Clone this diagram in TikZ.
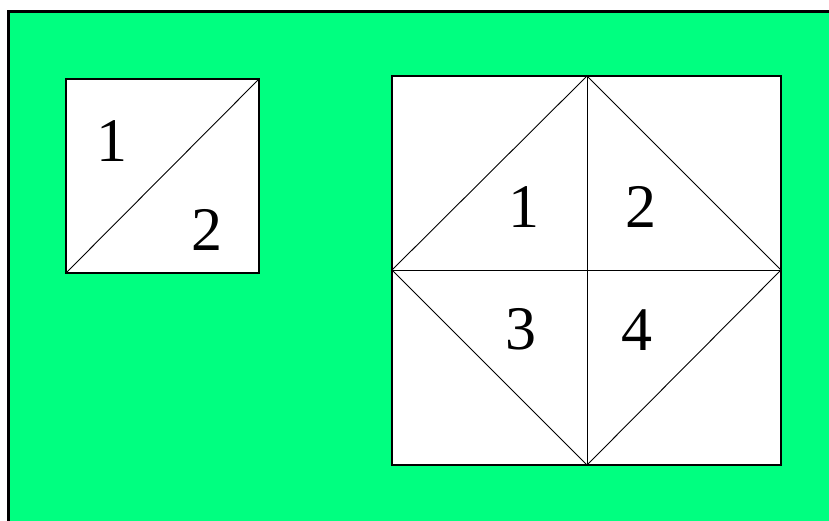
\documentclass[tikz,border=0pt]{standalone}
\usepackage{fontspec}
\setmainfont{Liberation Serif}
\definecolor{bggreen}{RGB}{0,255,128}
\begin{document}
\begin{tikzpicture}[x=1pt,y=-1pt,
  sq/.style={draw=black,fill=white,line width=1.2pt},
  ln/.style={draw=black,line width=0.9pt},
  num/.style={inner sep=0pt,font=\fontsize{62}{62}\selectfont}]
\useasboundingbox (0,0) rectangle (829,520);
\clip (0,0) rectangle (829,520);
\fill[white] (0,0) rectangle (829,520);
\draw[fill=bggreen,line width=3pt] (8,11) rectangle (860,560);
% small square
\coordinate (a1) at (66,79);
\coordinate (a2) at (259,79);
\coordinate (a3) at (259,273);
\coordinate (a4) at (66,273);
\draw[sq] (a1) rectangle (a3);
\draw[ln] (a4) -- (a2);
\node[num] (s1) at (112,141) {1};
\node[num] (s2) at (207,230) {2};
% large square
\coordinate (b1) at (392,76);
\coordinate (b3) at (781,465);
\coordinate (t) at (587,76);
\coordinate (b) at (587,465);
\coordinate (l) at (392,270);
\coordinate (r) at (781,270);
\draw[sq] (b1) rectangle (b3);
\draw[ln] (t) -- (r) -- (b) -- (l) -- cycle;
\draw[ln] (t) -- (b);
\draw[ln] (l) -- (r);
\node[num] (n1) at (524,207) {1};
\node[num] (n2) at (641,207) {2};
\node[num] (n3) at (521,329) {3};
\node[num] (n4) at (637,330) {4};
\end{tikzpicture}
\end{document}
